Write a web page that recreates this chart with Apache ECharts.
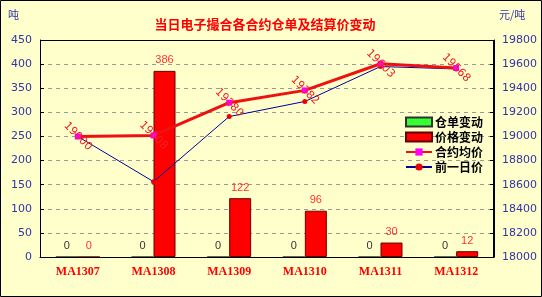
<!DOCTYPE html>
<html><head><meta charset="utf-8">
<script src="https://cdn.jsdelivr.net/npm/echarts@6/dist/echarts.min.js"></script>
<style>html,body{margin:0;padding:0;background:#FFFFCC}#c{width:542px;height:297px}</style>
</head><body><div id="c"></div>
<script>
const categories = ['MA1307','MA1308','MA1309','MA1310','MA1311','MA1312'];
const warrantChange = [0,0,0,0,0,0];
const priceChange = [0,386,122,96,30,12];
const avgPrice = [19000,19008,19280,19382,19603,19568];
const prevPrice = [19000,18625,19165,19290,19580,19560];
const leftTicks = {min:0,max:450,interval:50};
const rightTicks = {min:18000,max:19800,interval:200};

const chart = echarts.init(document.getElementById('c'));
const axisLblColor = '#3333AA';
chart.setOption({
  backgroundColor:'#FFFFCC',
  animation:false,
  title:{text:'当日电子撮合各合约仓单及结算价变动',left:260,top:13,textAlign:'center',
    textStyle:{color:'#FF0000',fontSize:13,fontWeight:'bold',fontFamily:'Noto Sans CJK SC'}},
  graphic:[
    {type:'rect',shape:{x:0.5,y:0.5,width:541,height:296},style:{fill:null,stroke:'#000',lineWidth:1},silent:true},
    {type:'rect',shape:{x:40.5,y:40.5,width:453,height:217},style:{fill:null,stroke:'#000',lineWidth:1},silent:true,z:10},
    {type:'text',left:8,top:9,style:{text:'吨',fill:axisLblColor,fontSize:11,fontFamily:'Noto Sans CJK SC'}},
    {type:'text',left:499,top:9,style:{text:'元/吨',fill:axisLblColor,fontSize:11,fontFamily:'Noto Sans CJK SC'}}
  ],
  legend:{orient:'vertical',left:400,top:111,itemGap:3,itemWidth:26,itemHeight:9,
    textStyle:{color:'#000',fontWeight:'bold',fontSize:12,fontFamily:'Noto Sans CJK SC',padding:[0,0,0,-2]},
    data:[{name:'仓单变动',icon:'rect'},{name:'价格变动',icon:'rect'},'合约均价','前一日价']},
  grid:{left:40,right:48,top:40,bottom:40},
  xAxis:{type:'category',data:categories,
    axisLine:{lineStyle:{color:'#000'}},
    axisTick:{inside:true,length:4,lineStyle:{color:'#000'}},
    axisLabel:{color:'#FF0000',fontWeight:'bold',fontSize:12,fontFamily:'Liberation Serif',margin:9}},
  yAxis:[
    {type:'value',min:leftTicks.min,max:leftTicks.max,interval:leftTicks.interval,
     axisLine:{show:true,lineStyle:{color:'#000'}},
     axisTick:{show:true,inside:true,length:4,lineStyle:{color:'#000'}},
     axisLabel:{color:axisLblColor,fontSize:11,fontFamily:'DejaVu Sans',margin:8},
     splitLine:{lineStyle:{color:'#999',type:[4,4]}}},
    {type:'value',min:rightTicks.min,max:rightTicks.max,interval:rightTicks.interval,
     axisLine:{show:true,lineStyle:{color:'#000'}},
     axisTick:{show:true,inside:true,length:4,lineStyle:{color:'#000'}},
     axisLabel:{color:axisLblColor,fontSize:11,fontFamily:'DejaVu Sans',margin:8,formatter:v=>String(v)},
     splitLine:{show:false}}
  ],
  series:[
    {name:'仓单变动',type:'bar',data:warrantChange,barWidth:22,barGap:'0%',
     itemStyle:{color:'#33FF33',borderColor:'#333',borderWidth:1},
     label:{show:true,position:'top',color:'#333',fontSize:11,distance:5}},
    {name:'价格变动',type:'bar',data:priceChange,barWidth:22,
     itemStyle:{color:'#FF0000',borderColor:'#660000',borderWidth:1},
     label:{show:true,position:'top',color:'#FF3333',fontSize:11,distance:5}},
    {name:'合约均价',type:'line',yAxisIndex:1,data:avgPrice,
     lineStyle:{color:'#EE1111',width:3},itemStyle:{color:'#FF00FF'},
     symbol:'rect',symbolSize:6,z:5,
     label:{show:true,position:'inside',rotate:-45,color:'#EE2222',fontSize:11,fontFamily:'DejaVu Sans'}},
    {name:'前一日价',type:'line',yAxisIndex:1,data:prevPrice,
     lineStyle:{color:'#000099',width:1},itemStyle:{color:'#EE0000'},
     symbol:'circle',symbolSize:5,z:4}
  ]
});
</script></body></html>
